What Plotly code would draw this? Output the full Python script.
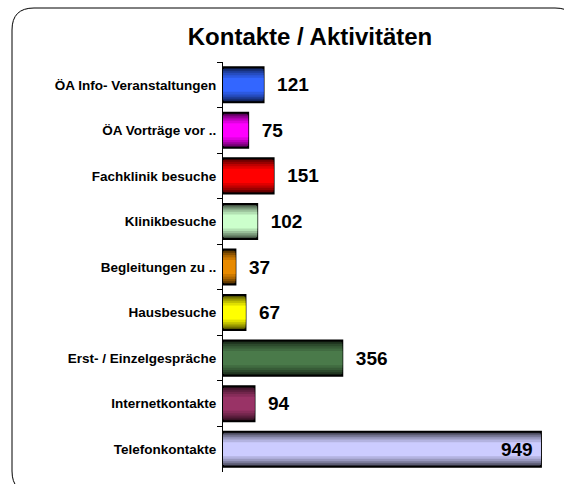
import plotly.graph_objects as go

# categories, top to bottom as in the picture
categories = [
    "ÖA Info- Veranstaltungen",
    "ÖA Vorträge vor ..",
    "Fachklinik besuche",
    "Klinikbesuche",
    "Begleitungen zu ..",
    "Hausbesuche",
    "Erst- / Einzelgespräche",
    "Internetkontakte",
    "Telefonkontakte",
]
values = [121, 75, 151, 102, 37, 67, 356, 94, 949]
bar_colors = [
    "#3366FF", "#FF00FF", "#FF0000", "#CCFFCC", "#E88A00",
    "#FFFF00", "#4A7A4A", "#993366", "#CCCCFF",
]

W, H = 564, 484
L, R, T, B = 223, 6, 62, 12
XMAX = 1000
BAR_W = 0.77
FONT = "Liberation Sans, Arial"


def shade(hex_color, f):
    r, g, b = (int(hex_color[i:i + 2], 16) for i in (1, 3, 5))
    return f"rgb({int(r * f)},{int(g * f)},{int(b * f)})"


labels = []
positions = []
for v in values:
    if v > 800:
        labels.append(f"{v} ")
        positions.append("inside")
    else:
        labels.append(f"  {v}")
        positions.append("outside")

fig = go.Figure()
# fake vertical gradient: dark outer band, lighter inner bands
layers = [(1.0, 0.3), (0.9, 0.45), (0.8, 0.6), (0.68, 0.75), (0.55, 0.88), (0.4, 1.0)]
for i, (wf, f) in enumerate(layers):
    fig.add_trace(go.Bar(
        y=categories,
        x=values,
        orientation="h",
        width=BAR_W * wf,
        marker=dict(
            color=[shade(c, f) for c in bar_colors],
            line=dict(color="black", width=2 if i == 0 else 0),
        ),
        hoverinfo="skip",
    ))

# transparent top layer carrying the value labels
fig.add_trace(go.Bar(
    y=categories,
    x=values,
    orientation="h",
    width=BAR_W,
    marker=dict(color="rgba(0,0,0,0)", line=dict(width=0)),
    text=labels,
    textposition=positions,
    insidetextanchor="end",
    textfont=dict(family=FONT, size=19, color="black", weight="bold"),
    cliponaxis=False,
))

# rounded frame around the chart (pixel -> paper), partly off the canvas
pw, ph = W - L - R, H - T - B
def px(x):
    return (x - L) / pw
def py(y):
    return (H - B - y) / ph

x0, x1, y0, y1, rad = 12, 577, 8, 493, 22
path = (
    f"M {px(x0)},{py(y1 - rad)} L {px(x0)},{py(y0 + rad)} "
    f"Q {px(x0)},{py(y0)} {px(x0 + rad)},{py(y0)} "
    f"L {px(x1 - rad)},{py(y0)} "
    f"Q {px(x1)},{py(y0)} {px(x1)},{py(y0 + rad)} "
    f"L {px(x1)},{py(y1 - rad)} "
    f"Q {px(x1)},{py(y1)} {px(x1 - rad)},{py(y1)} "
    f"L {px(x0 + rad)},{py(y1)} "
    f"Q {px(x0)},{py(y1)} {px(x0)},{py(y1 - rad)} Z"
)
fig.add_shape(type="path", path=path, xref="paper", yref="paper",
              line=dict(color="black", width=1), layer="below")

fig.update_layout(
    width=W, height=H,
    margin=dict(l=L, r=R, t=T, b=B),
    paper_bgcolor="white",
    plot_bgcolor="white",
    showlegend=False,
    barmode="overlay",
    title=dict(
        text="<b>Kontakte / Aktivitäten</b>",
        x=310 / W, xanchor="center",
        y=1 - 37 / H, yanchor="middle",
        font=dict(family=FONT, size=24, color="black"),
    ),
    xaxis=dict(range=[0, XMAX], visible=False, fixedrange=True),
    yaxis=dict(
        autorange="reversed",
        showline=True, linecolor="black", linewidth=1,
        ticks="outside", tickson="boundaries", ticklen=5, tickcolor="black",
        tickfont=dict(family=FONT, size=13.5, color="black", weight="bold"),
        ticklabelstandoff=3,
        showgrid=False,
    ),
    font=dict(family=FONT, color="black"),
)

fig.write_html("out.html", config={"displayModeBar": False},
               post_script="document.body.style.margin='0';")
